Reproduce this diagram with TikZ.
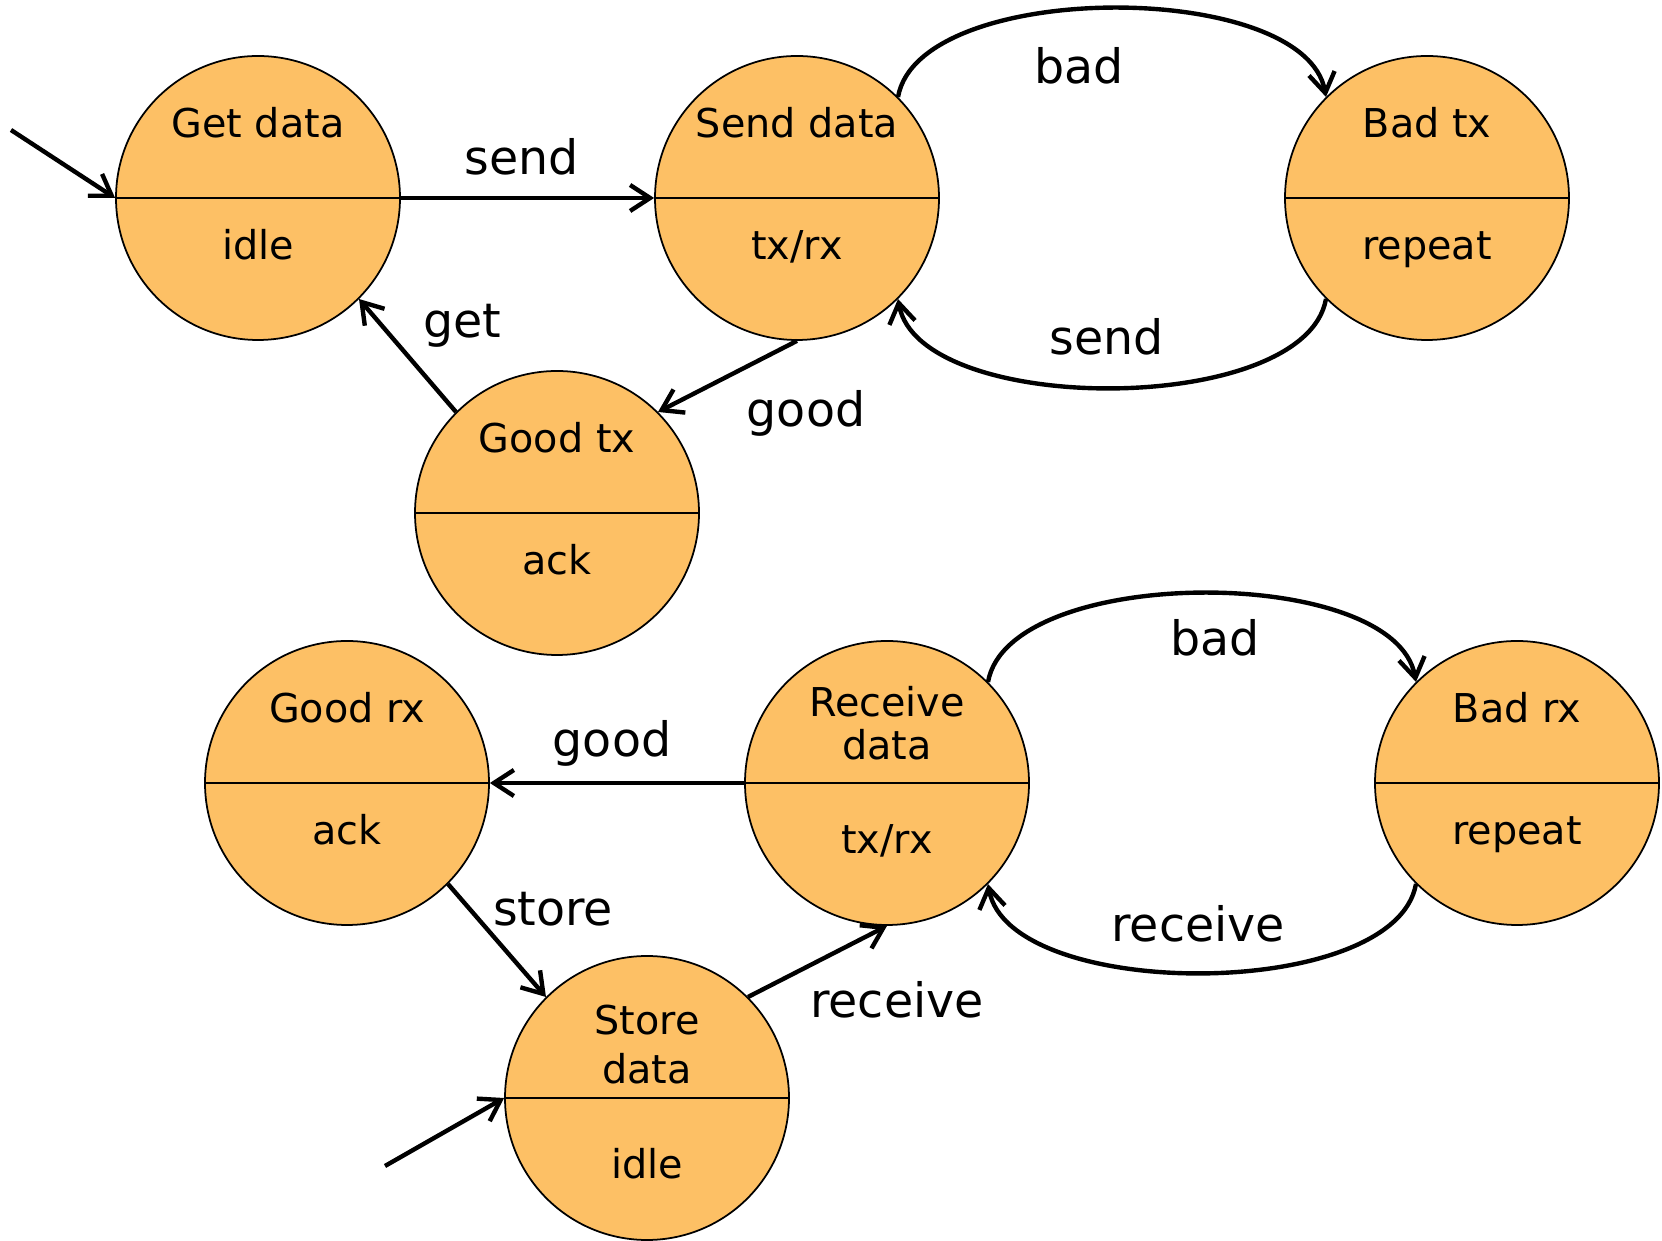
\documentclass[tikz,border=0pt]{standalone}
\usepackage{fontspec}
\setmainfont{DejaVu Sans}
\usetikzlibrary{arrows.meta}
\definecolor{stateorange}{RGB}{253,192,101}
\tikzset{
  state/.style={circle, draw, line width=0.5pt, fill=stateorange, minimum size=2.84cm, inner sep=0pt},
  statetext/.style={font=\fontsize{11.3}{12}\selectfont, align=center, inner sep=0pt},
  edgelabel/.style={font=\fontsize{13.5}{16}\selectfont, inner sep=0pt},
  trans/.style={line width=1.25pt, -{Straight Barb[length=2mm,width=2.6mm]}},
}
\begin{document}
\begin{tikzpicture}
  \useasboundingbox (0,0) rectangle (16.62,12.41);
  % sender side
  \node[state] (getdata) at (2.58,10.43) {};
  \node[state] (senddata) at (7.97,10.43) {};
  \node[state] (badtx) at (14.27,10.43) {};
  \node[state] (goodtx) at (5.57,7.28) {};
  % receiver side
  \node[state] (goodrx) at (3.47,4.58) {};
  \node[state] (recvdata) at (8.87,4.58) {};
  \node[state] (badrx) at (15.17,4.58) {};
  \node[state] (storedata) at (6.47,1.43) {};
  \foreach \s in {getdata,senddata,badtx,goodtx,goodrx,recvdata,badrx,storedata}
    \draw[line width=0.5pt] (\s.west) -- (\s.east);

  % state texts
  \node[statetext, anchor=base] (getdata-up) at ([yshift=0.60cm]getdata.center) {Get data};
  \node[statetext, anchor=base] (getdata-lo) at ([yshift=-0.62cm]getdata.center) {idle};
  \node[statetext, anchor=base] (senddata-up) at ([yshift=0.60cm]senddata.center) {Send data};
  \node[statetext, anchor=base] (senddata-lo) at ([yshift=-0.62cm]senddata.center) {tx/rx};
  \node[statetext, anchor=base] (badtx-up) at ([yshift=0.60cm]badtx.center) {Bad tx};
  \node[statetext, anchor=base] (badtx-lo) at ([yshift=-0.62cm]badtx.center) {repeat};
  \node[statetext, anchor=base] (goodtx-up) at ([yshift=0.60cm]goodtx.center) {Good tx};
  \node[statetext, anchor=base] (goodtx-lo) at ([yshift=-0.62cm]goodtx.center) {ack};
  \node[statetext, anchor=base] (goodrx-up) at ([yshift=0.60cm]goodrx.center) {Good rx};
  \node[statetext, anchor=base] (goodrx-lo) at ([yshift=-0.62cm]goodrx.center) {ack};
  \node[statetext, anchor=north] (recvdata-up) at ([yshift=0.97cm]recvdata.center) {Receive\\data};
  \node[statetext, anchor=base] (recvdata-lo) at ([yshift=-0.71cm]recvdata.center) {tx/rx};
  \node[statetext, anchor=base] (badrx-up) at ([yshift=0.60cm]badrx.center) {Bad rx};
  \node[statetext, anchor=base] (badrx-lo) at ([yshift=-0.62cm]badrx.center) {repeat};
  \node[statetext, anchor=north] (storedata-up) at ([yshift=0.94cm]storedata.center) {Store\\[2pt]data};
  \node[statetext, anchor=base] (storedata-lo) at ([yshift=-0.81cm]storedata.center) {idle};

  % transitions, sender
  \coordinate (starttx) at (0.11,11.11);
  \draw[trans] (starttx) -- (getdata.west);
  \draw[trans] (getdata.east) -- (senddata.west);
  \draw[trans] (senddata.45) .. controls +(80:1.2) and +(100:1.2) .. (badtx.135);
  \draw[trans] (badtx.225) .. controls +(-100:1.2) and +(-80:1.2) .. (senddata.315);
  \draw[trans] (senddata.south) -- (goodtx.45);
  \draw[trans] (goodtx.135) -- (getdata.315);
  \node[edgelabel] (lsend) at (5.22,10.84) {send};
  \node[edgelabel] (lbadtx) at (10.79,11.75) {bad};
  \node[edgelabel] (lresend) at (11.07,9.04) {send};
  \node[edgelabel] (lgoodtx) at (8.06,8.28) {good};
  \node[edgelabel] (lget) at (4.62,9.15) {get};

  % transitions, receiver
  \coordinate (startrx) at (3.85,0.75);
  \draw[trans] (startrx) -- (storedata.west);
  \draw[trans] (storedata.45) -- (recvdata.south);
  \draw[trans] (recvdata.45) .. controls +(80:1.2) and +(100:1.2) .. (badrx.135);
  \draw[trans] (badrx.225) .. controls +(-100:1.2) and +(-80:1.2) .. (recvdata.315);
  \draw[trans] (recvdata.west) -- (goodrx.east);
  \draw[trans] (goodrx.315) -- (storedata.135);
  \node[edgelabel] (lgoodrx) at (6.12,4.98) {good};
  \node[edgelabel] (lbadrx) at (12.15,6.03) {bad};
  \node[edgelabel] (lrerecv) at (11.98,3.17) {receive};
  \node[edgelabel] (lstore) at (5.53,3.32) {store};
  \node[edgelabel] (lrecv) at (8.97,2.41) {receive};
\end{tikzpicture}
\end{document}
